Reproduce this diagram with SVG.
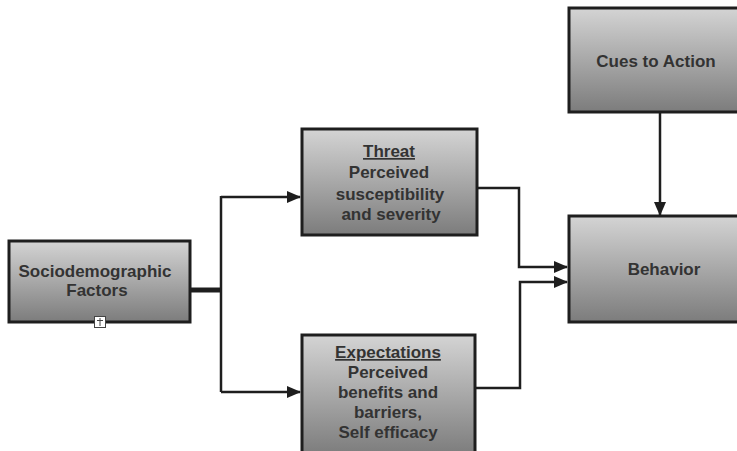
<svg xmlns="http://www.w3.org/2000/svg" width="737" height="451" viewBox="0 0 737 451">
<defs>
<linearGradient id="g" x1="0" y1="0" x2="0" y2="1">
<stop offset="0" stop-color="#d4d4d4"/>
<stop offset="1" stop-color="#7c7c7c"/>
</linearGradient>
<marker id="ah" markerWidth="14" markerHeight="12" refX="13" refY="6" orient="auto" markerUnits="userSpaceOnUse">
<path d="M0,0 L14,6 L0,12 Z" fill="#1e1e1e"/>
</marker>
</defs>
<style>
.box{fill:url(#g);stroke:#1e1e1e;stroke-width:3}
.t{font-family:"Liberation Sans",Arial,sans-serif;font-weight:bold;font-size:17px;fill:#333;text-anchor:middle}
.c{fill:none;stroke:#1e1e1e;stroke-width:2.5}
</style>
<rect width="737" height="451" fill="#fff"/>
<g id="connectors">
<line x1="190" y1="290" x2="221" y2="290" stroke="#1e1e1e" stroke-width="5"/>
<line x1="221" y1="196" x2="221" y2="392" class="c"/>
<path d="M221,197 L300,197" class="c" marker-end="url(#ah)"/>
<path d="M221,392 L300,392" class="c" marker-end="url(#ah)"/>
<path d="M477,188 L519,188 L519,267 L567,267" class="c" marker-end="url(#ah)"/>
<path d="M475,388 L520,388 L520,282 L567,282" class="c" marker-end="url(#ah)"/>
<path d="M660,112 L660,215" class="c" marker-end="url(#ah)"/>
</g>
<g id="sociodemographic">
<rect x="9" y="241" width="181" height="81" class="box"/>
<text x="95" y="277" class="t">Sociodemographic</text>
<text x="97" y="296" class="t">Factors</text>
<rect x="94.5" y="316.5" width="11" height="11" fill="#fff" stroke="#444" stroke-width="1"/>
<line x1="100" y1="318" x2="100" y2="326" stroke="#444" stroke-width="1"/>
<line x1="97" y1="320.5" x2="103" y2="320.5" stroke="#444" stroke-width="1"/>
</g>
<g id="threat">
<rect x="302" y="129" width="175" height="106" class="box"/>
<text x="389" y="157" class="t" text-decoration="underline">Threat</text>
<text x="389" y="178" class="t">Perceived</text>
<text x="390" y="200" class="t">susceptibility</text>
<text x="391" y="220" class="t">and severity</text>
</g>
<g id="expectations">
<rect x="302" y="335" width="173" height="120" class="box"/>
<text x="388" y="358" class="t" text-decoration="underline">Expectations</text>
<text x="388" y="378" class="t">Perceived</text>
<text x="388" y="398" class="t">benefits and</text>
<text x="388" y="418" class="t">barriers,</text>
<text x="388" y="438" class="t">Self efficacy</text>
</g>
<g id="behavior">
<rect x="569" y="216" width="180" height="106" class="box"/>
<text x="664" y="275" class="t">Behavior</text>
</g>
<g id="cues">
<rect x="569" y="8" width="180" height="104" class="box"/>
<text x="656" y="67" class="t">Cues to Action</text>
</g>
</svg>
